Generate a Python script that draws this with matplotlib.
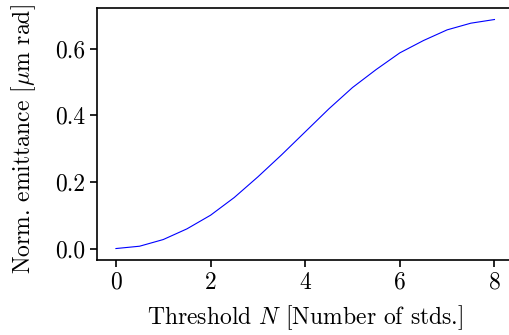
import numpy as np
import matplotlib
matplotlib.use("Agg")
from matplotlib import pyplot as plt

# threshold in number of standard deviations, and resulting normalised emittance
threshold = [0.0, 0.5, 1.0, 1.5, 2.0, 2.5, 3.0, 3.5, 4.0, 4.5, 5.0, 5.5, 6.0, 6.5, 7.0, 7.5, 8.0]
emittance = [0.0, 0.007, 0.027, 0.059, 0.100, 0.153, 0.215, 0.281, 0.350, 0.419, 0.483, 0.537,
             0.587, 0.624, 0.656, 0.676, 0.687]

plt.rcParams['font.family'] = 'serif'
plt.rcParams['font.serif'] = ['cmr10']
plt.rcParams['mathtext.fontset'] = 'cm'
plt.rcParams['axes.formatter.use_mathtext'] = True
plt.rcParams['font.size'] = 17

fig = plt.figure(figsize=(5.09, 3.35), dpi=100)
ax = fig.add_axes([0.1906, 0.2239, 0.818, 0.752])

ax.plot(threshold, emittance, color='blue', linewidth=0.8)

ax.set_xticks([0, 2, 4, 6, 8])
ax.set_yticks([0.0, 0.2, 0.4, 0.6])
ax.set_yticklabels(['0.0', '0.2', '0.4', '0.6'])
for s in ax.spines.values():
    s.set_linewidth(1.2)
ax.tick_params(width=1.2, length=5)

ax.set_xlabel(r'Threshold $N$ [Number of stds.]', labelpad=7)
ax.set_ylabel(r'Norm. emittance [$\mu$m rad]', labelpad=12)
ax.yaxis.label.set_y(0.48)

fig.savefig("out.png", dpi=100)
